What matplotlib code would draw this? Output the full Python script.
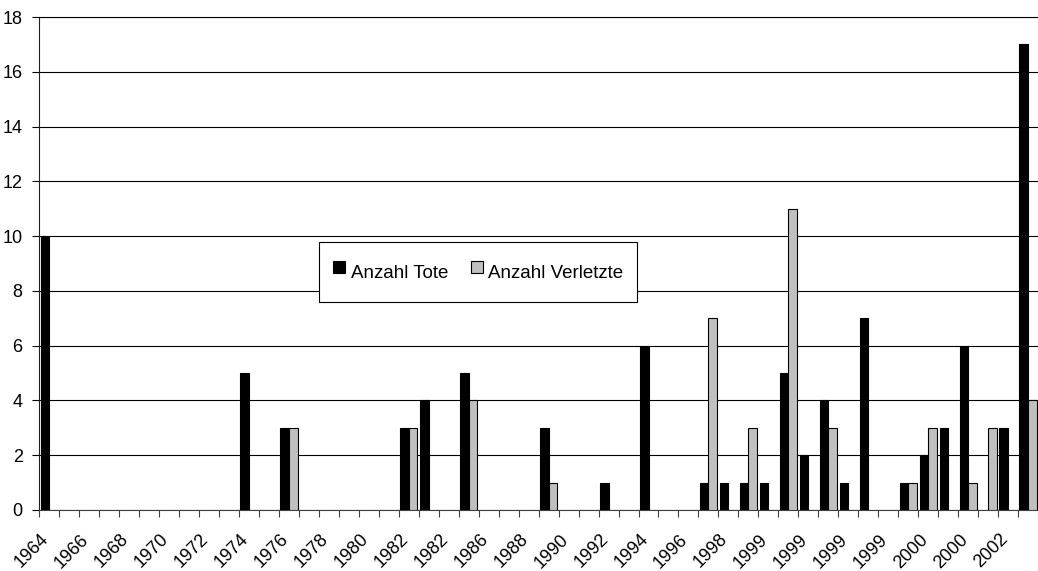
import numpy as np
import matplotlib
matplotlib.use("Agg")
import matplotlib.pyplot as plt
import matplotlib.transforms as mtransforms
from matplotlib.lines import Line2D

plt.rcParams["font.family"] = ["Liberation Sans", "DejaVu Sans"]

# one entry per category (50 categories, every second one is labelled)
tote = [10, 0, 0, 0, 0, 0, 0, 0, 0, 0,
        5, 0, 3, 0, 0, 0, 0, 0, 3, 4,
        0, 5, 0, 0, 0, 3, 0, 0, 1, 0,
        6, 0, 0, 1, 1, 1, 1, 5, 2, 4,
        1, 7, 0, 1, 2, 3, 6, 0, 3, 17]
verletzte = [0, 0, 0, 0, 0, 0, 0, 0, 0, 0,
             0, 0, 3, 0, 0, 0, 0, 0, 3, 0,
             0, 4, 0, 0, 0, 1, 0, 0, 0, 0,
             0, 0, 0, 7, 0, 3, 0, 11, 0, 3,
             0, 0, 0, 1, 3, 0, 1, 3, 0, 4]
year_labels = ["1964", "1966", "1968", "1970", "1972", "1974", "1976", "1978",
               "1980", "1982", "1982", "1986", "1988", "1990", "1992", "1994",
               "1996", "1998", "1999", "1999", "1999", "1999", "2000", "2000",
               "2002"]

tote = np.array(tote)
verletzte = np.array(verletzte)
x = np.arange(len(tote))
w = 0.43
gray = "#C0C0C0"

W, H = 1038, 571
fig = plt.figure(figsize=(W / 100, H / 100), dpi=100)
# plot area: y axis at x=39px, 0 at y=510px, 18 at y=17px (cropped on the right)
ax = fig.add_axes([39.3 / W, (H - 510) / H, (W - 39.3) / W, (510 - 17) / H])

m = tote > 0
ax.bar(x[m] - w / 2, tote[m], w, color="black", edgecolor="black", linewidth=0.8, zorder=3)
m = verletzte > 0
ax.bar(x[m] + w / 2, verletzte[m], w, color=gray, edgecolor="black", linewidth=0.8, zorder=3)

step = 20.08  # pixels per category
ax.set_xlim(-0.5, -0.5 + (W - 39.3) / step)
ax.set_ylim(0, 18)

ax.set_yticks(range(0, 19, 2))
ax.yaxis.grid(True, color="black", linewidth=0.8)
ax.set_axisbelow(True)
ax.tick_params(axis="y", length=5, width=0.8, pad=7, labelsize=13, colors="black")

ax.set_xticks(x[::2])
ax.set_xticklabels(year_labels, rotation=45, ha="right", va="top")
ax.set_xticks(np.arange(-0.5, len(tote) + 0.5), minor=True)
ax.tick_params(axis="x", which="major", length=0, pad=15, labelsize=13)
ax.tick_params(axis="x", which="minor", length=5, width=0.8, color="#404040")
# nudge the rotated labels a little to the right
shift = mtransforms.ScaledTranslation(3 / 100, 0, fig.dpi_scale_trans)
for lab in ax.get_xticklabels():
    lab.set_transform(lab.get_transform() + shift)

ax.spines["right"].set_visible(False)
ax.spines["top"].set_color("black")
ax.spines["top"].set_linewidth(0.8)
ax.spines["left"].set_color("#202020")
ax.spines["left"].set_linewidth(0.8)
ax.spines["bottom"].set_color("#404040")
ax.spines["bottom"].set_linewidth(0.8)

handles = [
    Line2D([], [], marker="s", linestyle="none", markersize=9,
           markerfacecolor="black", markeredgecolor="black", markeredgewidth=0.8),
    Line2D([], [], marker="s", linestyle="none", markersize=9,
           markerfacecolor=gray, markeredgecolor="black", markeredgewidth=0.8),
]
leg = fig.legend(handles, ["Anzahl Tote", "Anzahl Verletzte"], ncol=2,
                 loc="upper left", bbox_to_anchor=(319.3 / W, 1 - 242.3 / H),
                 borderaxespad=0, fontsize=13.5, frameon=True, fancybox=False,
                 borderpad=0.7, handlelength=0.72, handleheight=2.4,
                 handletextpad=0.27, columnspacing=1.15)
leg.get_frame().set_edgecolor("black")
leg.get_frame().set_linewidth(0.8)
leg.get_frame().set_alpha(1)

fig.savefig("out.png", dpi=100)
